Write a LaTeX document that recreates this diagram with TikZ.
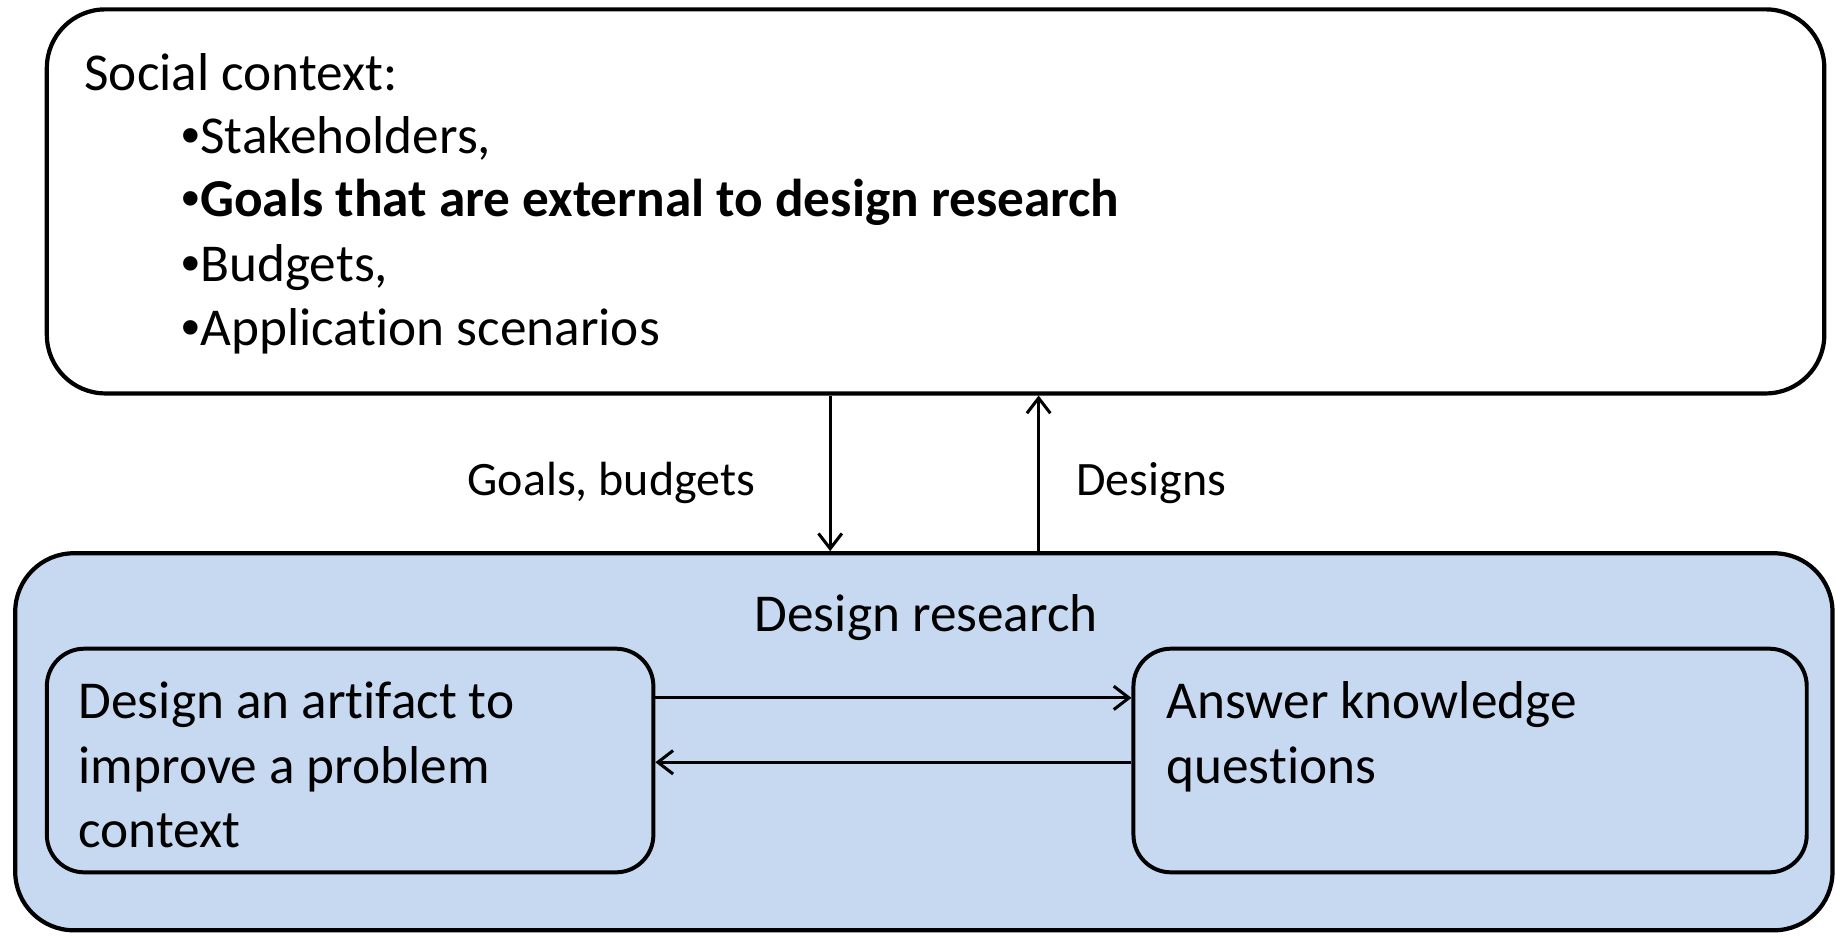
\documentclass[tikz,border=0pt]{standalone}
\usepackage{fontspec}
\setmainfont{Carlito}[Ligatures=NoCommon, RawFeature={-liga;-clig;-calt;-dlig}]
\newfontfamily\bulletfont{Liberation Sans}
\newcommand{\mybul}{{\mdseries\bulletfont •}}
\usetikzlibrary{arrows.meta}
\definecolor{drblue}{RGB}{198,217,241}
\tikzset{
  x=1pt,y=-1pt,
  bigbox/.style={draw=black, line width=3.6pt, rounded corners=50pt, inner sep=0pt},
  smallbox/.style={draw=black, line width=3.4pt, rounded corners=32pt, inner sep=0pt, fill=drblue},
  txt/.style={inner sep=0pt, anchor=base west, font=\fontsize{45.5pt}{54.5pt}\selectfont},
  lbl/.style={inner sep=0pt, anchor=base west, font=\fontsize{41pt}{48pt}\selectfont},
  arr/.style={line width=2.6pt, -{Straight Barb[length=13pt,width=20pt,line width=2.6pt]}}
}
\begin{document}
\begin{tikzpicture}
\useasboundingbox (0,0) rectangle (1568,799);
% boxes
\node[bigbox, minimum width=1518pt, minimum height=328pt] (top) at (799,172) {};
\node[bigbox, fill=drblue, minimum width=1552pt, minimum height=322pt] (outer) at (789,633.5) {};
\node[smallbox, minimum width=518pt, minimum height=191pt] (left) at (299,649.5) {};
\node[smallbox, minimum width=575pt, minimum height=191pt] (right) at (1255.5,649.5) {};
% top text
\node[txt] (t0) at (72,77) {Social context:};
\node[txt] (t1) at (155,131) {\mybul Stakeholders,};
\node[txt] (t2) at (155,185) {\mybul\textbf{Goals that are external to design research}};
\node[txt] (t3) at (155,240) {\mybul Budgets,};
\node[txt] (t4) at (155,295) {\mybul Application scenarios};
% bottom texts
\node[txt, anchor=base] (dr) at (791,539) {Design research};
\node[txt] (l1) at (67,614) {Design an artifact to};
\node[txt] (l2) at (67,669) {improve a problem};
\node[txt] (l3) at (67,724) {context};
\node[txt] (r1) at (996,614) {Answer knowledge};
\node[txt] (r2) at (996,669) {questions};
% labels
\node[lbl] (gb) at (399,423) {Goals, budgets};
\node[lbl] (ds) at (919,423) {Designs};
% arrows
\coordinate (dn) at (709,0);
\coordinate (up) at (887,0);
\coordinate (hr) at (0,596);
\coordinate (hl) at (0,651);
\draw[arr] (top.south -| dn) -- (outer.north -| dn);
\draw[arr] (outer.north -| up) -- (top.south -| up);
\draw[arr] (left.east |- hr) -- (right.west |- hr);
\draw[arr] (right.west |- hl) -- (left.east |- hl);
\end{tikzpicture}
\end{document}
